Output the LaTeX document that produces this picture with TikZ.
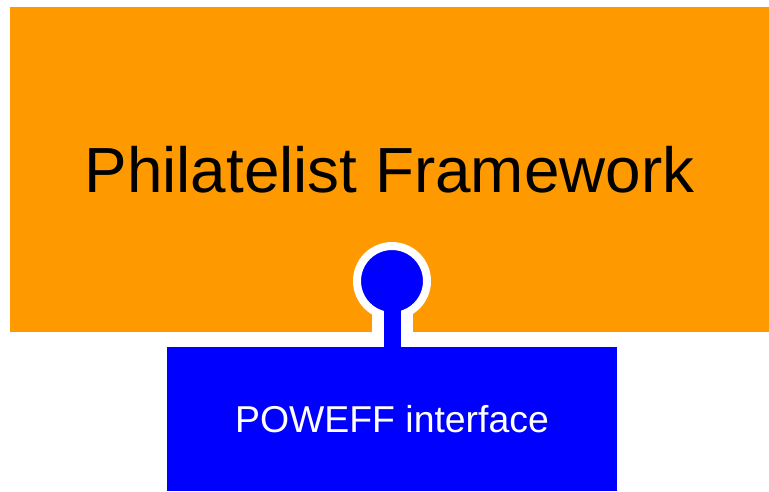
\documentclass[tikz,border=0pt]{standalone}
\usepackage{fontspec}
\setmainfont{Liberation Sans}
\definecolor{frameorange}{HTML}{FF9900}
\definecolor{ifaceblue}{HTML}{0000FF}
\begin{document}
\begin{tikzpicture}[x=1pt,y=-1pt,
  framebox/.style={fill=frameorange, draw=none, inner sep=0pt, font=\fontsize{63.8}{72}\selectfont, text=black},
  ifacebox/.style={fill=ifaceblue, draw=none, inner sep=0pt, font=\fontsize{37.4}{44}\selectfont, text=white},
  lollipop/.style={circle, fill=ifaceblue, draw=white, line width=8pt, minimum size=70pt, inner sep=0pt},
  stemwhite/.style={draw=white, line width=41pt},
  stemblue/.style={draw=ifaceblue, line width=17pt}]
\useasboundingbox (0,0) rectangle (769,491);
\node[framebox, minimum width=759pt, minimum height=325pt] (fw) at (389.5,169.5) {Philatelist Framework};
\node[ifacebox, minimum width=450pt, minimum height=144pt] (iface) at (392,419) {POWEFF interface};
\coordinate (lc) at (392,281);
\coordinate (stemtop) at (392,347);
\draw[stemwhite] (lc) -- (stemtop);
\node[lollipop] (lol) at (lc) {};
\draw[stemblue] (lol.center) -- (stemtop);
\end{tikzpicture}
\end{document}
